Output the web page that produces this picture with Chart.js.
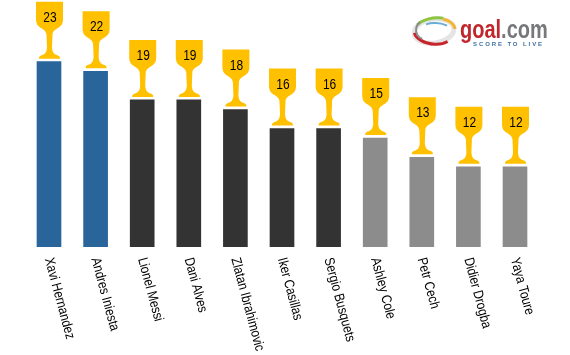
<!DOCTYPE html>
<html>
<head>
<meta charset="utf-8">
<script src="https://cdn.jsdelivr.net/npm/chart.js@4/dist/chart.umd.min.js"></script>
<style>
  body { margin: 0; background: #fff; }
  canvas { display: block; }
</style>
</head>
<body>
<canvas id="wins" width="570" height="355"></canvas>
<script>
const players = ["Xavi Hernandez", "Andres Iniesta", "Lionel Messi", "Dani Alves", "Zlatan Ibrahimovic", "Iker Casillas", "Sergio Busquets", "Ashley Cole", "Petr Cech", "Didier Drogba", "Yaya Toure"];
const trophies = [23, 22, 19, 19, 18, 16, 16, 15, 13, 12, 12];
const barColors = ["#29649b", "#29649b", "#333333", "#333333", "#333333", "#333333", "#333333", "#8c8c8c", "#8c8c8c", "#8c8c8c", "#8c8c8c"];

function drawGoblet(ctx, x, y) {
  // y is the bottom of the foot
  ctx.save();
  ctx.translate(x, y);
  ctx.fillStyle = "#ffc000";
  ctx.beginPath();
  ctx.moveTo(-13.5, -57);
  ctx.lineTo(13.5, -57);
  ctx.lineTo(13.5, -39);
  ctx.bezierCurveTo(13, -29, 4, -32, 3, -24);
  ctx.lineTo(2.5, -11);
  ctx.bezierCurveTo(3, -5, 6, -4, 9, -3);
  ctx.quadraticCurveTo(11, -2, 10.5, 0);
  ctx.lineTo(-10.5, 0);
  ctx.quadraticCurveTo(-11, -2, -9, -3);
  ctx.bezierCurveTo(-6, -4, -3, -5, -2.5, -11);
  ctx.lineTo(-3, -24);
  ctx.bezierCurveTo(-4, -32, -13, -29, -13.5, -39);
  ctx.closePath();
  ctx.fill();
  ctx.restore();
}

// goblet and number on top of every bar
const gobletPlugin = {
  id: "goblets",
  afterDatasetsDraw(chart) {
    const ctx = chart.ctx;
    chart.getDatasetMeta(0).data.forEach((bar, i) => {
      drawGoblet(ctx, bar.x + 0.5, bar.y - 3);
      ctx.save();
      ctx.translate(bar.x + 1, bar.y - 44);
      ctx.scale(0.8, 1);
      ctx.fillStyle = "#000";
      ctx.font = "15px 'Liberation Sans'";
      ctx.textAlign = "center";
      ctx.textBaseline = "middle";
      ctx.fillText(trophies[i], 0, 0);
      ctx.restore();
    });
  }
};

// chart.js always right aligns rotated x ticks, these hang down from the start
const slantedTicks = {
  id: "slantedTicks",
  afterDraw(chart) {
    const ctx = chart.ctx;
    const xScale = chart.scales.x;
    xScale.getLabels().forEach((name, i) => {
      ctx.save();
      ctx.translate(xScale.getPixelForValue(i) - 0.5, xScale.bottom + 3);
      ctx.rotate(75 * Math.PI / 180);
      ctx.scale(0.84, 1);
      ctx.fillStyle = "#000";
      ctx.font = "14px 'Liberation Sans'";
      ctx.textBaseline = "middle";
      ctx.fillText(name, 0, 0);
      ctx.restore();
    });
  }
};

const logoPlugin = {
  id: "logo",
  afterDraw(chart) {
    const ctx = chart.ctx;
    const rings = [
      ["#e4e4e4", 434, 31, 20, 12, -0.15, 0, 6.3, 5],
      ["#8cc63f", 435, 27, 19, 9, -0.1, 3.6, 5.2, 3],
      ["#f2b632", 437, 28, 18, 10, 0.1, 5.0, 6.2, 3],
      ["#6aaed6", 436, 29, 14, 6, 0.05, 3.9, 5.6, 2],
      ["#c8242b", 433, 33, 19, 11, 0.15, 0.6, 2.9, 3],
      ["#8c8c8c", 424, 30, 8, 9, 0, 1.8, 4.2, 2]
    ];
    rings.forEach(r => {
      ctx.beginPath();
      ctx.ellipse(r[1], r[2], r[3], r[4], r[5], r[6], r[7]);
      ctx.strokeStyle = r[0];
      ctx.lineWidth = r[8];
      ctx.stroke();
    });
    ctx.save();
    ctx.translate(460, 38);
    ctx.scale(0.8, 1);
    ctx.font = "bold 25px 'Liberation Sans'";
    ctx.fillStyle = "#c0272d";
    ctx.fillText("goal", 0, 0);
    const w = ctx.measureText("goal").width;
    ctx.fillStyle = "#77787b";
    ctx.fillText(".com", w, 0);
    ctx.restore();
    ctx.font = "bold 6px 'Liberation Sans'";
    ctx.letterSpacing = "1.9px";
    ctx.fillStyle = "#3f6f9f";
    ctx.fillText("SCORE TO LIVE", 473, 46);
    ctx.letterSpacing = "0px";
  }
};

new Chart(document.getElementById("wins"), {
  type: "bar",
  data: {
    labels: players,
    datasets: [{ data: trophies, backgroundColor: barColors, barThickness: 24, borderWidth: 0 }]
  },
  options: {
    responsive: false,
    animation: false,
    layout: { padding: { left: 25.7, right: 31.7, top: 0, bottom: 100 } },
    plugins: { legend: { display: false }, tooltip: { enabled: false } },
    scales: {
      x: { grid: { display: false }, border: { display: false }, ticks: { display: false } },
      y: { display: false, min: 3.6, max: 29.46 }
    }
  },
  plugins: [gobletPlugin, slantedTicks, logoPlugin]
});
</script>
</body>
</html>
